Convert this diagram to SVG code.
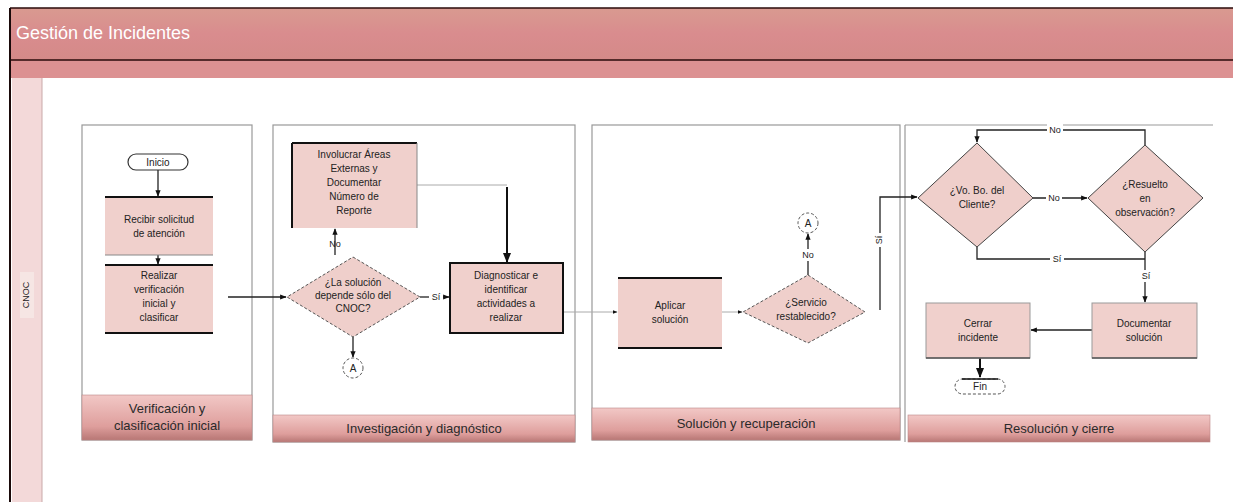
<svg xmlns="http://www.w3.org/2000/svg" width="1233" height="502" viewBox="0 0 1233 502">
<defs>
<linearGradient id="hdr" x1="0" y1="0" x2="0" y2="1">
<stop offset="0" stop-color="#d99a90"/><stop offset="0.5" stop-color="#d98c8e"/><stop offset="1" stop-color="#d48a88"/>
</linearGradient>
<linearGradient id="band" x1="0" y1="0" x2="0" y2="1">
<stop offset="0" stop-color="#f2c8c6"/><stop offset="0.7" stop-color="#de9e9c"/><stop offset="1" stop-color="#b87775"/>
</linearGradient>
<marker id="ah" viewBox="0 0 10 10" refX="9" refY="5" markerWidth="5" markerHeight="5" orient="auto-start-reverse">
<path d="M0,1 L10,5 L0,9 z" fill="#111"/>
</marker>
</defs>
<style>
text{font-family:"Liberation Sans",Arial,sans-serif;fill:#222}
.t{font-size:10px;text-anchor:middle}
.b{font-size:13px;text-anchor:middle;fill:#2a2a2a}
.phase{fill:#fff;stroke:#999;stroke-width:1.2}
.band{fill:url(#band);stroke:#b88;stroke-width:0.6}
.node{fill:#f0d0cc}
.dia{fill:#efcfcb;stroke:#555;stroke-width:1;stroke-dasharray:3,2}
.k{stroke:#111;stroke-width:2;fill:none}
.c{stroke:#222;stroke-width:1.3;fill:none}
.cg{stroke:#aaa;stroke-width:1;fill:none}
.circ{fill:#fff;stroke:#555;stroke-width:1;stroke-dasharray:3,2}
.lbl{font-size:9px;text-anchor:middle}
</style>
<rect x="0" y="0" width="1233" height="502" fill="#fff"/>
<g id="pool">
<rect x="10" y="8" width="1223" height="52" fill="url(#hdr)"/>
<rect x="10" y="60" width="1223" height="18" fill="#dc9192"/>
<rect x="12" y="78" width="30" height="424" fill="#f3d9d9"/>
<line x1="42" y1="78" x2="42" y2="502" stroke="#c9a9a9" stroke-width="1"/>
<line x1="10" y1="8" x2="1233" y2="8" stroke="#2a0a0a" stroke-width="1.5"/>
<line x1="10" y1="60" x2="1233" y2="60" stroke="#2a0a0a" stroke-width="1.5"/>
<line x1="10" y1="8" x2="10" y2="502" stroke="#1a0a0a" stroke-width="2"/>
<text x="16" y="39" style="font-size:18px;fill:#fff">Gestión de Incidentes</text>
<rect x="20" y="272" width="14" height="46" fill="#f6e6e4"/>
<text x="27" y="295" transform="rotate(-90 27 295)" style="font-size:9px;text-anchor:middle;dominant-baseline:middle">CNOC</text>
</g>
<g id="phase1">
<rect class="phase" x="82" y="125" width="170" height="315"/>
<rect class="band" x="82" y="395" width="170" height="45"/>
<text class="b" x="167" y="413">Verificación y</text>
<text class="b" x="167" y="430">clasificación inicial</text>
</g>
<g id="phase2">
<rect class="phase" x="273" y="125" width="302" height="317"/>
<rect class="band" x="273" y="415" width="302" height="27"/>
<text class="b" x="424" y="433">Investigación y diagnóstico</text>
</g>
<g id="phase3">
<rect class="phase" x="592" y="125" width="308" height="315"/>
<rect class="band" x="592" y="408" width="308" height="32"/>
<text class="b" x="746" y="428">Solución y recuperación</text>
</g>
<g id="phase4">
<rect class="phase" x="905" y="125" width="308" height="317" style="stroke:none"/>
<line x1="905" y1="125" x2="1213" y2="125" stroke="#999" stroke-width="1.2"/>
<line x1="905" y1="125" x2="905" y2="442" stroke="#999" stroke-width="1.2"/>
<rect class="band" x="908" y="415" width="302" height="27"/>
<text class="b" x="1059" y="433">Resolución y cierre</text>
</g>
<g id="connectors">
<line class="c" x1="158" y1="170" x2="158" y2="196" marker-end="url(#ah)"/>
<line class="c" x1="158" y1="255" x2="158" y2="264" marker-end="url(#ah)"/>
<line class="c" x1="228" y1="297" x2="286" y2="297" marker-end="url(#ah)"/>
<line class="c" x1="335" y1="255" x2="335" y2="229" marker-end="url(#ah)"/>
<text class="lbl" x="335" y="247">No</text>
<line class="c" x1="353" y1="337" x2="353" y2="357" marker-end="url(#ah)"/>
<line class="c" x1="420" y1="297" x2="449" y2="297" marker-end="url(#ah)"/>
<rect x="429" y="290" width="14" height="12" fill="#fff"/>
<text class="lbl" x="436" y="300">Sí</text>
<polyline class="cg" points="417,185 507,185"/>
<line class="k" x1="507" y1="187" x2="507" y2="262" marker-end="url(#ah)"/>
<line class="cg" x1="563" y1="312" x2="617" y2="312" marker-end="url(#ah)"/>
<line class="cg" x1="722" y1="312" x2="742" y2="312" marker-end="url(#ah)"/>
<line class="c" x1="808" y1="275" x2="808" y2="234" marker-end="url(#ah)"/>
<rect x="800" y="249" width="16" height="12" fill="#fff"/>
<text class="lbl" x="808" y="258">No</text>
<polyline class="c" points="880,310 880,197 917,197" marker-end="url(#ah)"/>
<rect x="874" y="233" width="12" height="14" fill="#fff"/>
<text class="lbl" x="880" y="240" transform="rotate(-90 880 240)" style="dominant-baseline:middle">Sí</text>
<line class="c" x1="1033" y1="198" x2="1087" y2="198" marker-end="url(#ah)"/>
<rect x="1046" y="192" width="16" height="12" fill="#fff"/>
<text class="lbl" x="1054" y="201">No</text>
<polyline class="c" points="1145,145 1145,130 977,130 977,142" marker-end="url(#ah)"/>
<rect x="1047" y="124" width="16" height="12" fill="#fff"/>
<text class="lbl" x="1055" y="133">No</text>
<polyline class="c" points="977,247 977,259 1145,259"/>
<rect x="1050" y="253" width="14" height="12" fill="#fff"/>
<text class="lbl" x="1057" y="262">Sí</text>
<line class="c" x1="1145" y1="252" x2="1145" y2="302" marker-end="url(#ah)"/>
<rect x="1139" y="270" width="14" height="12" fill="#fff"/>
<text class="lbl" x="1146" y="279">Sí</text>
<line class="c" x1="1092" y1="330" x2="1031" y2="330" marker-end="url(#ah)"/>
<line class="k" x1="980" y1="358" x2="980" y2="377" marker-end="url(#ah)"/>
</g>
<g id="inicio">
<rect x="128" y="154" width="60" height="16" rx="8" fill="#fff" stroke="#333" stroke-width="1.2"/>
<text class="t" x="158" y="165.5">Inicio</text>
</g>
<g id="recibir">
<rect class="node" x="105" y="197" width="108" height="58"/>
<line x1="105" y1="197" x2="213" y2="197" stroke="#111" stroke-width="2"/>
<line x1="105" y1="255" x2="213" y2="255" stroke="#888" stroke-width="1"/>
<text class="t" x="159" y="223">Recibir solicitud</text>
<text class="t" x="159" y="237">de atención</text>
</g>
<g id="realizar">
<rect class="node" x="105" y="265" width="108" height="68"/>
<line x1="105" y1="265" x2="213" y2="265" stroke="#111" stroke-width="2"/>
<line x1="105" y1="333" x2="213" y2="333" stroke="#111" stroke-width="2"/>
<text class="t" x="159" y="279">Realizar</text>
<text class="t" x="159" y="293">verificación</text>
<text class="t" x="159" y="307">inicial y</text>
<text class="t" x="159" y="321">clasificar</text>
</g>
<g id="involucrar">
<rect class="node" x="292" y="143" width="125" height="85"/>
<line x1="292" y1="143" x2="417" y2="143" stroke="#111" stroke-width="2"/>
<line x1="292" y1="143" x2="292" y2="228" stroke="#111" stroke-width="2"/>
<line x1="417" y1="143" x2="417" y2="228" stroke="#888" stroke-width="1"/>
<text class="t" x="354" y="158">Involucrar Áreas</text>
<text class="t" x="354" y="172">Externas y</text>
<text class="t" x="354" y="186">Documentar</text>
<text class="t" x="354" y="200">Número de</text>
<text class="t" x="354" y="214">Reporte</text>
</g>
<g id="decision1">
<polygon class="dia" points="353,257 420,297 353,337 287,297"/>
<text class="t" x="353" y="286">¿La solución</text>
<text class="t" x="353" y="299">depende sólo del</text>
<text class="t" x="353" y="312">CNOC?</text>
</g>
<g id="diagnosticar">
<rect class="node" x="450" y="263" width="113" height="70" stroke="#111" stroke-width="2"/>
<text class="t" x="506" y="279">Diagnosticar e</text>
<text class="t" x="506" y="293">identificar</text>
<text class="t" x="506" y="307">actividades a</text>
<text class="t" x="506" y="321">realizar</text>
</g>
<g id="conectorA1">
<circle class="circ" cx="353" cy="368" r="10"/>
<text class="t" x="353" y="371.5">A</text>
</g>
<g id="aplicar">
<rect class="node" x="618" y="278" width="104" height="70"/>
<line x1="618" y1="278" x2="722" y2="278" stroke="#111" stroke-width="2"/>
<line x1="618" y1="348" x2="722" y2="348" stroke="#111" stroke-width="2"/>
<text class="t" x="670" y="309">Aplicar</text>
<text class="t" x="670" y="323">solución</text>
</g>
<g id="decision2">
<polygon class="dia" points="808,275 865,312 808,343 743,312"/>
<text class="t" x="806" y="306">¿Servicio</text>
<text class="t" x="806" y="320">restablecido?</text>
</g>
<g id="conectorA2">
<circle class="circ" cx="808" cy="223" r="10"/>
<text class="t" x="808" y="226.5">A</text>
</g>
<g id="vobo">
<polygon points="977,143 1033,198 977,247 918,198" fill="#efcfcb" stroke="#444" stroke-width="1"/>
<text class="t" x="977" y="194">¿Vo. Bo. del</text>
<text class="t" x="977" y="208">Cliente?</text>
</g>
<g id="resuelto">
<polygon points="1145,145 1203,198 1145,252 1088,198" fill="#efcfcb" stroke="#444" stroke-width="1"/>
<text class="t" x="1145" y="188">¿Resuelto</text>
<text class="t" x="1145" y="202">en</text>
<text class="t" x="1145" y="216">observación?</text>
</g>
<g id="documentar">
<rect class="node" x="1092" y="303" width="105" height="55" stroke="#999" stroke-width="1"/>
<line x1="1092" y1="358" x2="1197" y2="358" stroke="#555" stroke-width="1.5"/>
<text class="t" x="1144" y="327">Documentar</text>
<text class="t" x="1144" y="341">solución</text>
</g>
<g id="cerrar">
<rect class="node" x="926" y="303" width="104" height="55" stroke="#999" stroke-width="1"/>
<line x1="926" y1="358" x2="1030" y2="358" stroke="#555" stroke-width="1.5"/>
<text class="t" x="978" y="327">Cerrar</text>
<text class="t" x="978" y="341">incidente</text>
</g>
<g id="fin">
<rect x="955" y="379" width="50" height="15" rx="7.5" fill="#fff" stroke="#555" stroke-width="1" stroke-dasharray="3,2"/>
<line x1="962" y1="379" x2="998" y2="379" stroke="#111" stroke-width="1.5"/>
<text class="t" x="980" y="390">Fin</text>
</g>
</svg>
